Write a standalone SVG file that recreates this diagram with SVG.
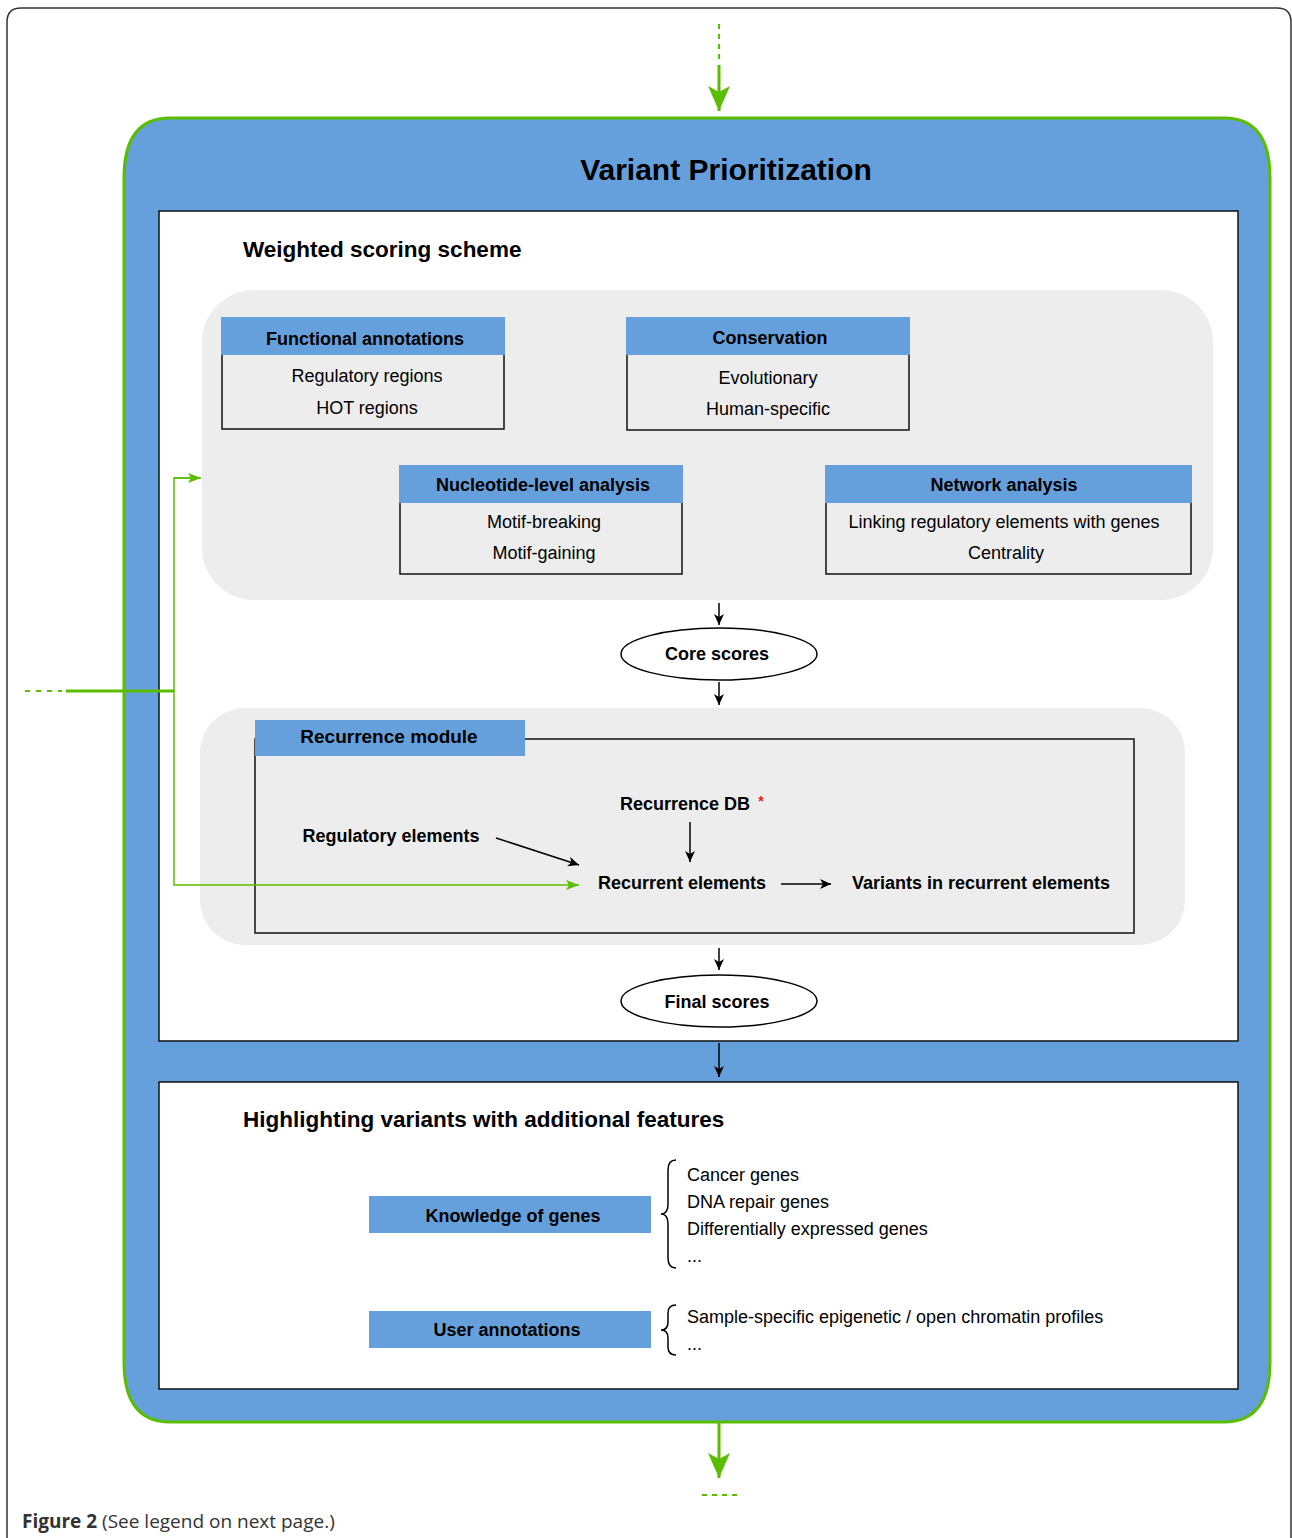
<svg xmlns="http://www.w3.org/2000/svg" width="1292" height="1538" viewBox="0 0 1292 1538">
<defs>
<style>
text{font-family:"Liberation Sans",Arial,sans-serif;fill:#000}
.b{font-weight:bold}
.h18{font-size:18px}
.c{text-anchor:middle}
.gray{fill:#EDEDED}
.hdr{fill:#66A0DC}
.box{fill:none;stroke:#111;stroke-width:1.5}
.wbox{fill:#fff;stroke:#111;stroke-width:1.5}
.blk{stroke:#000;stroke-width:1.5;fill:none}
.grn{stroke:#5BBD00;fill:none}
.ell{fill:#fff;stroke:#000;stroke-width:1.5}
</style>
<marker id="ab" markerUnits="userSpaceOnUse" markerWidth="12" markerHeight="10" refX="11" refY="5" orient="auto">
<path d="M0,0 L11,5 L0,10 L3,5 Z" fill="#000"/>
</marker>
<marker id="ag" markerUnits="userSpaceOnUse" markerWidth="14" markerHeight="10" refX="13" refY="5" orient="auto">
<path d="M0,0 L13,5 L0,10 L3,5 Z" fill="#5BBD00"/>
</marker>
<marker id="agb" markerUnits="userSpaceOnUse" markerWidth="26" markerHeight="22" refX="25" refY="11" orient="auto">
<path d="M0,0 L25,11 L0,22 L6,11 Z" fill="#5BBD00"/>
</marker>
</defs>

<g id="page-frame">
<path d="M7,1538 V22 Q7,8 21,8 H1277 Q1291,8 1291,22 V1538" fill="none" stroke="#333" stroke-width="1.5"/>
</g>

<g id="variant-prioritization">
<path d="M124,178 Q124,118 170,118 H1224 Q1270,118 1270,178 V1362 Q1270,1422 1224,1422 H170 Q124,1422 124,1362 Z" fill="#66A0DC" stroke="#5BBD00" stroke-width="3"/>
<text x="726" y="180" class="b c" font-size="30">Variant Prioritization</text>
</g>

<g id="weighted-scoring-scheme">
<rect x="159" y="211" width="1079" height="830" class="wbox"/>
<text x="243" y="257" class="b" font-size="22.5">Weighted scoring scheme</text>
<rect x="202" y="290" width="1011" height="310" rx="52" class="gray"/>
</g>

<g id="functional-annotations">
<rect x="222" y="318" width="282" height="111" class="box"/>
<rect x="221" y="317" width="284" height="38" class="hdr"/>
<text x="365" y="345" class="b c h18">Functional annotations</text>
<text x="367" y="382" class="c h18">Regulatory regions</text>
<text x="367" y="414" class="c h18">HOT regions</text>
</g>

<g id="conservation">
<rect x="627" y="318" width="282" height="112" class="box"/>
<rect x="626" y="317" width="284" height="38" class="hdr"/>
<text x="770" y="344" class="b c h18">Conservation</text>
<text x="768" y="384" class="c h18">Evolutionary</text>
<text x="768" y="415" class="c h18">Human-specific</text>
</g>

<g id="nucleotide-level-analysis">
<rect x="400" y="466" width="282" height="108" class="box"/>
<rect x="399" y="465" width="284" height="38" class="hdr"/>
<text x="543" y="491" class="b c h18">Nucleotide-level analysis</text>
<text x="544" y="528" class="c h18">Motif-breaking</text>
<text x="544" y="559" class="c h18">Motif-gaining</text>
</g>

<g id="network-analysis">
<rect x="826" y="466" width="365" height="108" class="box"/>
<rect x="825" y="465" width="367" height="38" class="hdr"/>
<text x="1004" y="491" class="b c h18">Network analysis</text>
<text x="1004" y="528" class="c h18">Linking regulatory elements with genes</text>
<text x="1006" y="559" class="c h18">Centrality</text>
</g>

<g id="core-scores">
<ellipse cx="719" cy="654" rx="98" ry="26" class="ell"/>
<text x="717" y="660" class="b c h18">Core scores</text>
</g>

<g id="recurrence-module">
<rect x="200" y="708" width="985" height="237" rx="45" class="gray"/>
<rect x="255" y="739" width="879" height="194" class="box"/>
<rect x="255" y="720" width="270" height="36" class="hdr"/>
<text x="389" y="743" class="b c" font-size="19">Recurrence module</text>
</g>

<g id="recurrence-db">
<text x="685" y="810" class="b c h18">Recurrence DB</text>
<text x="761" y="806" class="b c" font-size="14" style="fill:#E8161A">*</text>
</g>

<g id="regulatory-elements">
<text x="391" y="842" class="b c h18">Regulatory elements</text>
</g>

<g id="recurrent-elements">
<text x="682" y="889" class="b c h18">Recurrent elements</text>
</g>

<g id="variants-in-recurrent-elements">
<text x="981" y="889" class="b c h18">Variants in recurrent elements</text>
</g>

<g id="final-scores">
<ellipse cx="719" cy="1001" rx="98" ry="26" class="ell"/>
<text x="717" y="1008" class="b c h18">Final scores</text>
</g>

<g id="highlighting-variants">
<rect x="159" y="1082" width="1079" height="307" class="wbox"/>
<text x="243" y="1127" class="b" font-size="22.5">Highlighting variants with additional features</text>
</g>

<g id="knowledge-of-genes">
<rect x="369" y="1196" width="282" height="37" class="hdr"/>
<text x="513" y="1222" class="b c h18">Knowledge of genes</text>
<path d="M676,1160 Q668,1160 668,1170 V1204 Q668,1214 661,1214 Q668,1214 668,1224 V1258 Q668,1268 676,1268" class="blk" stroke-width="1.2"/>
<text x="687" y="1181" class="h18">Cancer genes</text>
<text x="687" y="1208" class="h18">DNA repair genes</text>
<text x="687" y="1235" class="h18">Differentially expressed genes</text>
<text x="687" y="1262" class="h18">...</text>
</g>

<g id="user-annotations">
<rect x="369" y="1311" width="282" height="37" class="hdr"/>
<text x="507" y="1336" class="b c h18">User annotations</text>
<path d="M676,1305 Q668,1305 668,1313 V1322 Q668,1330 661,1330 Q668,1330 668,1338 V1347 Q668,1355 676,1355" class="blk" stroke-width="1.2"/>
<text x="687" y="1323" class="h18">Sample-specific epigenetic / open chromatin profiles</text>
<text x="687" y="1350" class="h18">...</text>
</g>

<g id="connectors">
<line x1="719" y1="603" x2="719" y2="625" class="blk" marker-end="url(#ab)"/>
<line x1="719" y1="682" x2="719" y2="705" class="blk" marker-end="url(#ab)"/>
<line x1="690" y1="822" x2="690" y2="862" class="blk" marker-end="url(#ab)"/>
<line x1="496" y1="838" x2="579" y2="865" class="blk" marker-end="url(#ab)"/>
<line x1="781" y1="884" x2="831" y2="884" class="blk" marker-end="url(#ab)"/>
<line x1="719" y1="948" x2="719" y2="970" class="blk" marker-end="url(#ab)"/>
<line x1="719" y1="1043" x2="719" y2="1077" class="blk" marker-end="url(#ab)"/>
<line x1="719" y1="24" x2="719" y2="62" class="grn" stroke-width="2" stroke-dasharray="5,5"/>
<line x1="719" y1="65" x2="719" y2="111" class="grn" stroke-width="3" marker-end="url(#agb)"/>
<line x1="719" y1="1423" x2="719" y2="1478" class="grn" stroke-width="3" marker-end="url(#agb)"/>
<line x1="702" y1="1495" x2="738" y2="1495" class="grn" stroke-width="2" stroke-dasharray="5,5"/>
<line x1="25" y1="691" x2="62" y2="691" class="grn" stroke-width="2" stroke-dasharray="5,6"/>
<line x1="66" y1="691" x2="174" y2="691" class="grn" stroke-width="3"/>
<polyline points="200,478 174,478 174,885 579,885" class="grn" stroke-width="1.5" marker-end="url(#ag)"/>
<line x1="174" y1="478" x2="201" y2="478" class="grn" stroke-width="1.5" marker-end="url(#ag)"/>
</g>

<g id="caption">
<text x="22" y="1528" font-size="19" style="font-family:'Open Sans','Liberation Sans',sans-serif;fill:#333"><tspan font-weight="bold">Figure 2</tspan> (See legend on next page.)</text>
</g>
</svg>
